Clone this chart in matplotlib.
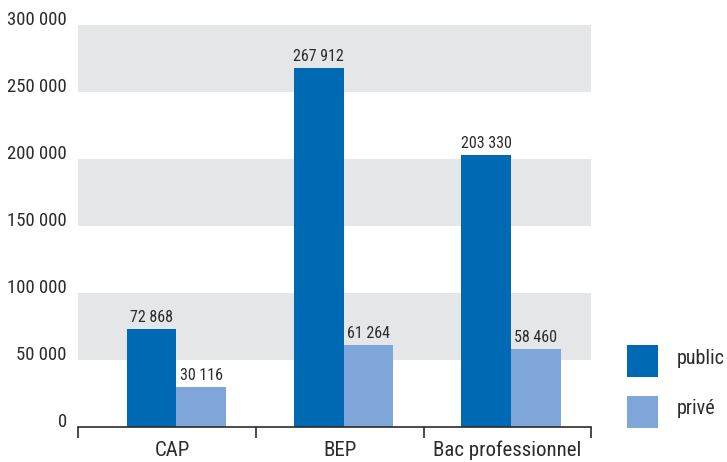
import matplotlib
matplotlib.use("Agg")
import matplotlib.pyplot as plt
from matplotlib.patches import Rectangle
from matplotlib.ticker import FixedLocator

plt.rcParams['font.family'] = ['Roboto Condensed', 'DejaVu Sans']

categories = ["CAP", "BEP", "Bac professionnel"]
public = [72868, 267912, 203330]
prive = [30116, 61264, 58460]
series_names = ["public", "privé"]
y_ticks = [0, 50000, 100000, 150000, 200000, 250000, 300000]

c_public = "#0069b4"
c_prive = "#7fa6d8"
c_band = "#e5e6e7"
c_text = "#2b2b2b"

W, H = 727, 462


def fmt(v):
    return f"{v:,}".replace(",", " ")


fig = plt.figure(figsize=(W / 100, H / 100), dpi=100)
ax = fig.add_axes([78 / W, 1 - 427 / H, 513 / W, 402 / H])
ax.set_xlim(-0.566, 2.5)
ax.set_ylim(0, 300000)

# alternating grey bands
for lo in (50000, 150000, 250000):
    ax.axhspan(lo, lo + 50000, color=c_band, lw=0, zorder=0)

w = 0.297
shift = 0.021
xs = range(len(categories))
b1 = ax.bar([x + shift - w / 2 for x in xs], public, width=w, color=c_public, zorder=2)
b2 = ax.bar([x + shift + w / 2 for x in xs], prive, width=w, color=c_prive, zorder=2)

for bars, vals in ((b1, public), (b2, prive)):
    for rect, v in zip(bars, vals):
        ax.annotate(fmt(v), (rect.get_x() + rect.get_width() / 2, v),
                    xytext=(0, 5), textcoords="offset points",
                    ha="center", va="baseline", fontsize=11.5, color=c_text)

# axes styling
for s in ("top", "right", "left"):
    ax.spines[s].set_visible(False)
ax.spines["bottom"].set_color(c_text)
ax.spines["bottom"].set_linewidth(1.2)

ax.set_yticks(y_ticks)
ax.set_yticklabels([fmt(v) for v in y_ticks], fontsize=13.5, color=c_text)
for lab in ax.get_yticklabels():
    lab.set_verticalalignment("baseline")
ax.tick_params(axis="y", length=0, pad=8)

ax.set_xticks(list(xs))
ax.set_xticklabels(categories, fontsize=15, color=c_text)
ax.tick_params(axis="x", which="major", length=0, pad=10)
ax.xaxis.set_minor_locator(FixedLocator([-0.566, 0.5, 1.5, 2.5]))
ax.tick_params(axis="x", which="minor", length=8, width=1.2, color=c_text, direction="out")

# legend: coloured squares with labels to their right
for i, (name, col) in enumerate(zip(series_names, (c_public, c_prive))):
    top = 345 + i * 51
    fig.add_artist(Rectangle((627 / W, 1 - (top + 32) / H), 31 / W, 32 / H,
                             transform=fig.transFigure, facecolor=col, edgecolor="none"))
    fig.text(677 / W, 1 - (top + 13) / H, name, ha="left", va="center",
             fontsize=14.5, color=c_text)

fig.savefig("out.png", dpi=100)
